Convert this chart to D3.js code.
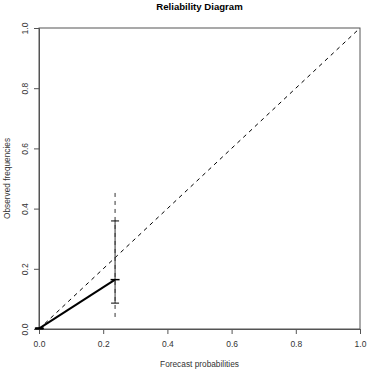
<!DOCTYPE html>
<html>
<head>
<meta charset="utf-8">
<script src="https://cdn.jsdelivr.net/npm/d3@7"></script>
<style>
	body { margin: 0; background: #fff; }
	text { font-family: "Liberation Sans", Arial, sans-serif; fill: #333; }
</style>
</head>
<body>
<div id="chart"></div>
<script>
// bins of the reliability diagram
var forecast = [0.001, 0.237],
	observed = [0.002, 0.164],
	innerLow = [0.0, 0.086],
	innerHigh = [0.004, 0.359],
	outerLow = [0.0, 0.04],
	outerHigh = [0.006, 0.452],
	xTicks = [0, 0.2, 0.4, 0.6, 0.8, 1.0],
	yTicks = [0, 0.2, 0.4, 0.6, 0.8, 1.0];

var chartWidth = 368,
	chartHeight = 372,
	margin = { top: 28, right: 8, bottom: 43, left: 39 },
	x = d3.scaleLinear().domain([0, 1]).range([margin.left, chartWidth - margin.right]),
	y = d3.scaleLinear().domain([0, 1]).range([chartHeight - margin.bottom, margin.top]),
	fmt = d3.format(".1f");

var svg = d3.select("#chart").append("svg")
	.attr("width", chartWidth)
	.attr("height", chartHeight);

var bins = forecast.map(function(f, i) {
	return { f: f, o: observed[i], il: innerLow[i], ih: innerHigh[i], ol: outerLow[i], oh: outerHigh[i] };
});

// axes
svg.append("g")
	.attr("transform", "translate(0," + y(0) + ")")
	.call(d3.axisBottom(x).tickValues(xTicks).tickFormat(fmt).tickSize(5).tickPadding(7))
	.call(function(g) {
		g.select(".domain").attr("stroke", "#555");
		g.selectAll(".tick line").attr("stroke", "#555");
		g.selectAll("text").attr("font-size", "8.5px").attr("fill", "#333");
	});

svg.append("g")
	.attr("transform", "translate(" + x(0) + ",0)")
	.call(d3.axisLeft(y).tickValues(yTicks).tickFormat(fmt).tickSize(5))
	.call(function(g) {
		g.select(".domain").attr("stroke", "#555");
		g.selectAll(".tick line").attr("stroke", "#555");
		g.selectAll("text")
			.attr("font-size", "8.5px").attr("fill", "#333")
			.attr("x", null).attr("dy", null)
			.attr("text-anchor", "middle")
			.attr("transform", "translate(-11,0) rotate(-90)");
	});

// box
svg.append("rect")
	.attr("x", x(0)).attr("y", y(1))
	.attr("width", x(1) - x(0)).attr("height", y(0) - y(1))
	.attr("fill", "none").attr("stroke", "#555");

// diagonal
svg.append("line")
	.attr("x1", x(0)).attr("y1", y(0))
	.attr("x2", x(1)).attr("y2", y(1))
	.attr("stroke", "#000").attr("stroke-dasharray", "4,4");

// outer (dashed) intervals
svg.selectAll(".outer").data(bins).enter().append("line")
	.attr("class", "outer")
	.attr("x1", function(d) { return x(d.f); }).attr("x2", function(d) { return x(d.f); })
	.attr("y1", function(d) { return y(d.ol); }).attr("y2", function(d) { return y(d.oh); })
	.attr("stroke", "#333").attr("stroke-dasharray", "4,4");

// inner intervals with caps
svg.selectAll(".inner").data(bins).enter().append("line")
	.attr("class", "inner")
	.attr("x1", function(d) { return x(d.f); }).attr("x2", function(d) { return x(d.f); })
	.attr("y1", function(d) { return y(d.il); }).attr("y2", function(d) { return y(d.ih); })
	.attr("stroke", "#333");

["il", "ih"].forEach(function(k) {
	svg.selectAll(".cap-" + k).data(bins).enter().append("line")
		.attr("class", "cap-" + k)
		.attr("x1", function(d) { return x(d.f) - 4; }).attr("x2", function(d) { return x(d.f) + 4; })
		.attr("y1", function(d) { return y(d[k]); }).attr("y2", function(d) { return y(d[k]); })
		.attr("stroke", "#000");
});

// reliability curve
svg.append("path")
	.datum(bins)
	.attr("fill", "none").attr("stroke", "#000").attr("stroke-width", 2)
	.attr("d", d3.line().x(function(d) { return x(d.f); }).y(function(d) { return y(d.o); }));

// point markers
svg.selectAll(".mark").data(bins).enter().append("line")
	.attr("class", "mark")
	.attr("x1", function(d) { return x(d.f) - 4.5; }).attr("x2", function(d) { return x(d.f) + 4.5; })
	.attr("y1", function(d) { return y(d.o); }).attr("y2", function(d) { return y(d.o); })
	.attr("stroke", "#000").attr("stroke-width", 1.5);

// titles
svg.append("text")
	.attr("x", (x(0) + x(1)) / 2).attr("y", 10)
	.attr("text-anchor", "middle")
	.attr("font-size", "9.6px").attr("font-weight", "bold").style("fill", "#000")
	.text("Reliability Diagram");

svg.append("text")
	.attr("x", (x(0) + x(1)) / 2).attr("y", 367)
	.attr("text-anchor", "middle")
	.attr("font-size", "8.3px")
	.text("Forecast probabilities");

svg.append("text")
	.attr("transform", "translate(10," + (y(0) + y(1)) / 2 + ") rotate(-90)")
	.attr("text-anchor", "middle")
	.attr("font-size", "8.3px")
	.text("Observed frequencies");
</script>
</body>
</html>
